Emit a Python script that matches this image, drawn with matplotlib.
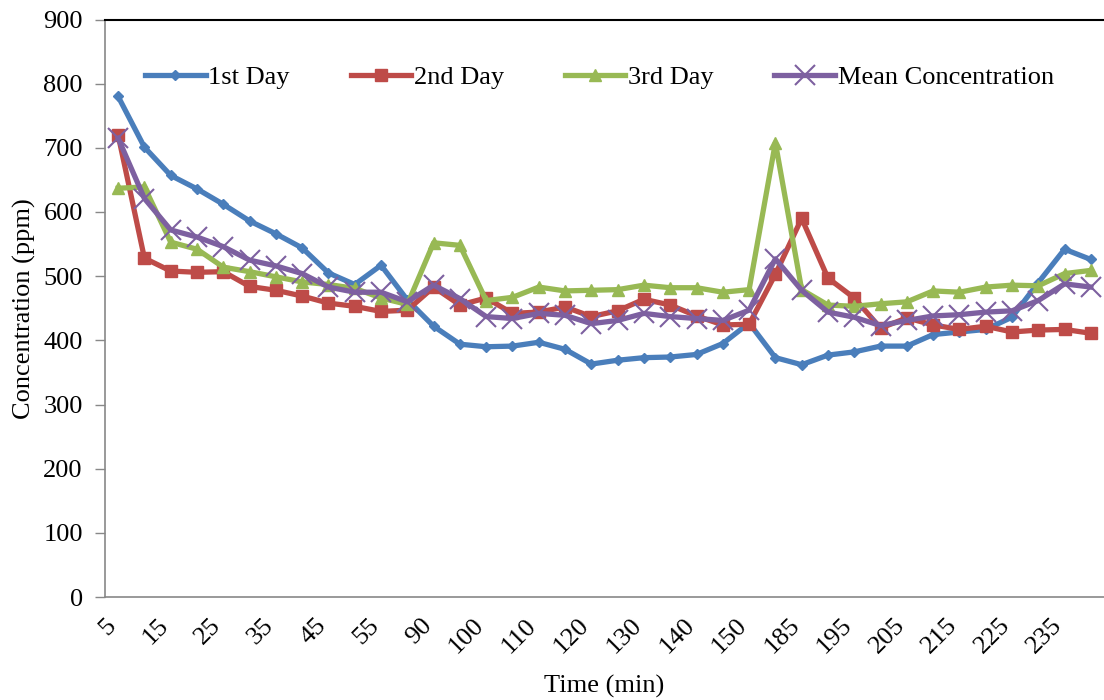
import matplotlib
matplotlib.use("Agg")
import matplotlib.pyplot as plt
from matplotlib.transforms import ScaledTranslation

times = [5, 10, 15, 20, 25, 30, 35, 40, 45, 50, 55, 60,
         90, 95, 100, 105, 110, 115, 120, 125, 130, 135, 140, 145, 150,
         180, 185, 190, 195, 200, 205, 210, 215, 220, 225, 230, 235, 240]

day1 = [780, 701, 657, 636, 612, 586, 566, 544, 505, 487, 517, 463, 422, 394, 390,
        391, 397, 386, 363, 369, 373, 374, 378, 395, 427, 373, 362, 377, 382, 391,
        391, 409, 413, 417, 436, 490, 542, 526]
day2 = [720, 528, 508, 506, 507, 484, 478, 469, 458, 453, 445, 447, 483, 455, 466,
        442, 444, 452, 437, 446, 464, 455, 438, 424, 425, 503, 590, 497, 466, 419,
        435, 424, 417, 422, 413, 416, 417, 411]
day3 = [637, 639, 553, 542, 514, 507, 499, 491, 487, 481, 466, 456, 552, 548, 462,
        467, 483, 477, 478, 479, 486, 482, 482, 475, 479, 708, 479, 455, 453, 457,
        460, 477, 475, 483, 486, 485, 504, 509]
mean_conc = [715, 621, 572, 561, 546, 525, 516, 504, 483, 475, 475, 460, 486, 465, 437,
             434, 442, 439, 426, 431, 442, 437, 434, 431, 447, 527, 478, 444, 436, 423,
             431, 438, 440, 444, 446, 462, 488, 483]

series_names = ["1st Day", "2nd Day", "3rd Day", "Mean Concentration"]
y_ticks = [0, 100, 200, 300, 400, 500, 600, 700, 800, 900]

plt.rcParams['font.family'] = ['Liberation Serif', 'DejaVu Serif']
plt.rcParams['font.size'] = 19

fig = plt.figure(figsize=(11.04, 7.0), dpi=100)
ax = fig.add_axes([105 / 1104, 1 - 597 / 700, 1 - 105 / 1104, (597 - 19.5) / 700])

x = list(range(len(times)))
styles = [
    dict(color="#4A7EBB", marker="D", ms=5, lw=3.8),
    dict(color="#BE4B48", marker="s", ms=8, lw=3.8),
    dict(color="#98B954", marker="^", ms=9, lw=3.8),
    dict(color="#7D60A0", marker="x", ms=14, mew=1.5, lw=3.8),
]
for data, name, st in zip([day1, day2, day3, mean_conc], series_names, styles):
    ax.plot(x, data, label=name, **st)

ax.set_xlim(-0.5, len(times) - 0.5)
ax.set_ylim(0, 900)
ax.set_yticks(y_ticks)
ax.set_xticks(x[::2])
ax.set_xticklabels([str(t) for t in times[::2]], rotation=45, ha='right',
                   va='center', rotation_mode='anchor')
ax.tick_params(axis='x', length=0, pad=18)
ax.tick_params(axis='y', length=7, width=1, color='#888888', direction='out', pad=9)
off = ScaledTranslation(-4 / 72, 0, fig.dpi_scale_trans)
for lab in ax.get_xticklabels():
    lab.set_transform(lab.get_transform() + off)

for s in ['left', 'bottom']:
    ax.spines[s].set_color('#888888')
    ax.spines[s].set_linewidth(1.2)
ax.spines['top'].set_color('black')
ax.spines['top'].set_linewidth(1.5)
ax.spines['right'].set_visible(False)

ax.set_ylabel("Concentration (ppm)", labelpad=5)
ax.set_xlabel("Time (min)", labelpad=12)

leg = ax.legend(loc='upper left', bbox_to_anchor=(145 / 1104, 1 - 66 / 700),
                bbox_transform=fig.transFigure, ncol=4, frameon=False,
                handlelength=2.3, handletextpad=0.1, columnspacing=2.3,
                borderpad=0, borderaxespad=0)

fig.savefig("out.png", dpi=100)
